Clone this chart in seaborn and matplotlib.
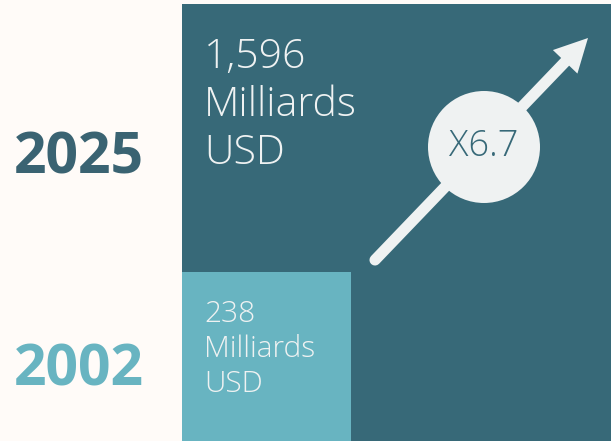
import numpy as np
import matplotlib.pyplot as plt
import seaborn as sns
from matplotlib.patches import Circle

# Data
years = ['2002', '2025']
values = [238, 1596]          # milliards USD
unit_lines = ['Milliards', 'USD']
ratio_label = 'X6.7'

# Colours
bg = '#FFFBF8'
dark = '#376978'
light = '#68B4C1'
pale = '#EFF2F2'

sns.set_theme(style='white')
plt.rcParams['font.family'] = ['Open Sans', 'DejaVu Sans']

fig = plt.figure(figsize=(6.11, 4.41), dpi=100, facecolor=bg)
ax = fig.add_axes([0, 0, 1, 1])
ax.set_facecolor(bg)
ax.set_xlim(0, 611)
ax.set_ylim(0, 441)
ax.axis('off')

# squares sized by area (side ~ sqrt(value))
k = 10.95
sides = [k * np.sqrt(v) for v in values]
left = 182
ax.bar(left, sides[1], width=sides[1], align='edge', color=dark, lw=0, zorder=1)
ax.bar(left, sides[0], width=sides[0], align='edge', color=light, lw=0, zorder=2)

# year labels
ax.text(14, 268, years[1], color='#3A6372', fontsize=41, fontweight='bold',
        va='baseline', ha='left')
ax.text(14, 56, years[0], color=light, fontsize=41, fontweight='bold',
        va='baseline', ha='left')

# value labels
big_lines = [f'{values[1]:,}'] + unit_lines
for i, s in enumerate(big_lines):
    ax.text(204, 373 - i * 48, s, color=pale, fontsize=29.5, fontweight='light',
            va='baseline', ha='left', zorder=5)
small_lines = [f'{values[0]:,}'] + unit_lines
for i, s in enumerate(small_lines):
    ax.text(204, 119 - i * 35, s, color=pale, fontsize=21.5, fontweight='light',
            va='baseline', ha='left', zorder=5)

# growth arrow
tail = np.array([375, 441 - 260])
tip = np.array([588, 441 - 38])
d = (tip - tail) / np.linalg.norm(tip - tail)
n = np.array([-d[1], d[0]])
hl, hw = 33, 17
base = tip - d * hl
ax.plot([tail[0], base[0] + d[0] * 3], [tail[1], base[1] + d[1] * 3],
        color=pale, lw=8, solid_capstyle='round', zorder=3)
head = np.array([tip, base + n * hw, base - n * hw])
ax.fill(head[:, 0], head[:, 1], color=pale, zorder=3, lw=0)

ax.add_patch(Circle((484, 441 - 147), 56, color=pale, lw=0, zorder=4))
ax.text(484, 441 - 147, ratio_label, color=dark, fontsize=26,
        fontweight='light', ha='center', va='center', zorder=5)

fig.savefig('out.png', dpi=100, facecolor=bg)
